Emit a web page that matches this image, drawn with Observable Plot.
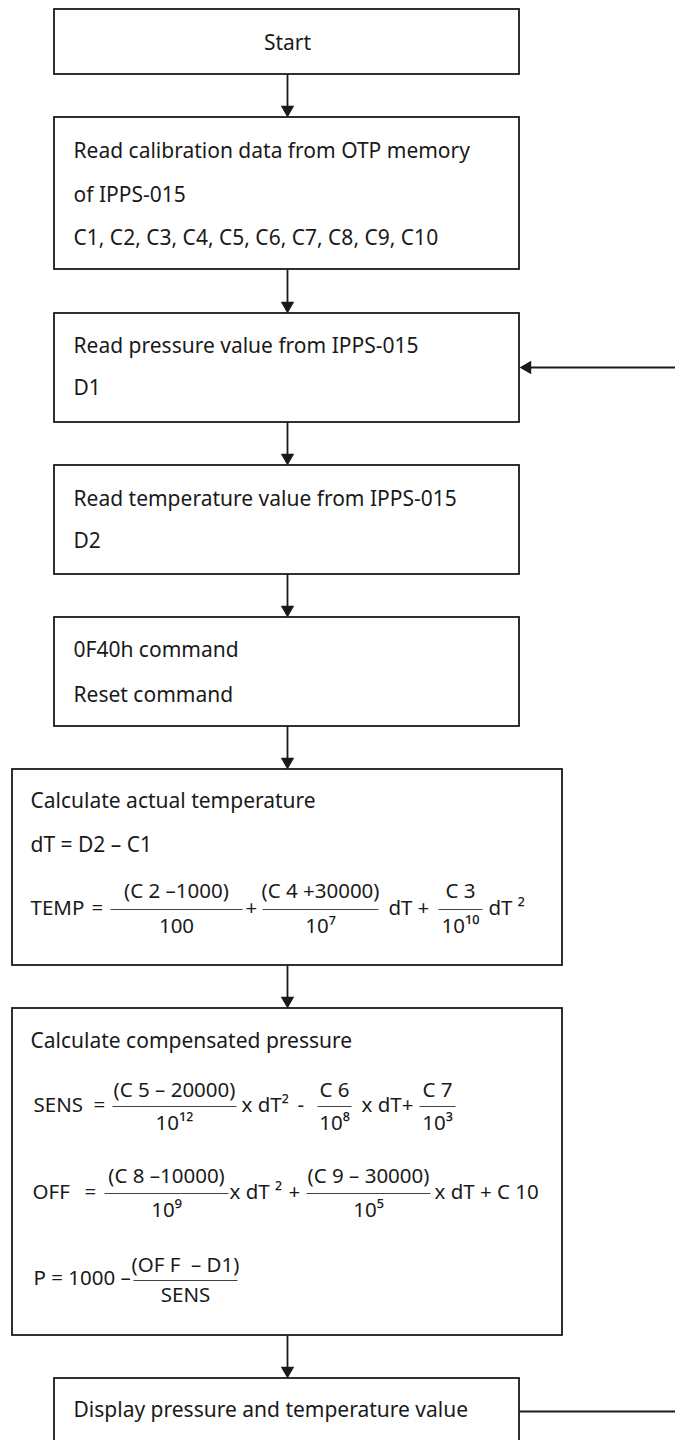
<!DOCTYPE html>
<html><head><meta charset="utf-8">
<script src="https://cdn.jsdelivr.net/npm/d3@7"></script>
<script src="https://cdn.jsdelivr.net/npm/@observablehq/plot@0.6"></script>
<style>html,body{margin:0;padding:0;background:#fff;} #chart svg{display:block}</style>
</head><body><div id="chart"></div>
<script>
// ---------- data: texts of the flowchart ----------
const stepLines = [
  ["Start"],
  ["Read calibration data from OTP memory", "of IPPS-015", "C1, C2, C3, C4, C5, C6, C7, C8, C9, C10"],
  ["Read pressure value from IPPS-015", "D1"],
  ["Read temperature value from IPPS-015", "D2"],
  ["0F40h command", "Reset command"],
  ["Calculate actual temperature", "dT = D2 – C1"],
  ["Calculate compensated pressure"],
  ["Display pressure and temperature value"]
];
const tempTokens = ["TEMP", "=", "+", "dT", "+", "dT ²"];
const tempNumerators = ["(C 2 –1000)", "(C 4 +30000)", "C 3"];
const tempDenominators = ["100", "10⁷", "10¹⁰"];
const sensTokens = ["SENS", "=", "x dT²", "-", "x dT+"];
const sensNumerators = ["(C 5 – 20000)", "C 6", "C 7"];
const sensDenominators = ["10¹²", "10⁸", "10³"];
const offTokens = ["OFF", "=", "x dT ²", "+", "x dT + C 10"];
const offNumerators = ["(C 8 –10000)", "(C 9 – 30000)"];
const offDenominators = ["10⁹", "10⁵"];
const pTokens = ["P = 1000 –"];
const pNumerators = ["(OF F  – D1)"];
const pDenominators = ["SENS"];

// ---------- layout (pixel geometry of the drawing) ----------
const W = 675, H = 1440, CX = 287;
const small = [54, 519], big = [12, 562];
const boxGeom = [
  {xs: small, y1: 9,    y2: 74,   lineY: [43],            center: true},
  {xs: small, y1: 117,  y2: 269,  lineY: [151, 195, 238]},
  {xs: small, y1: 313,  y2: 422,  lineY: [346, 388]},
  {xs: small, y1: 465,  y2: 574,  lineY: [499, 541]},
  {xs: small, y1: 617,  y2: 726,  lineY: [650, 695]},
  {xs: big,   y1: 769,  y2: 965,  lineY: [801, 845]},
  {xs: big,   y1: 1008, y2: 1335, lineY: [1041]},
  {xs: small, y1: 1378, y2: 1446, lineY: [1410]}
];
const rowGeom = [
  {tokens: tempTokens, nums: tempNumerators, dens: tempDenominators, y: 908, numY: 891, denY: 926, barY: 909,
   tokenX: [30, 91, 245, 388, 417, 488], fracX: [176, 320, 460], fracHW: [66, 58, 22]},
  {tokens: sensTokens, nums: sensNumerators, dens: sensDenominators, y: 1105, numY: 1090, denY: 1123, barY: 1106,
   tokenX: [33, 93, 241, 297, 361], fracX: [174, 334, 437], fracHW: [62, 17, 18]},
  {tokens: offTokens, nums: offNumerators, dens: offDenominators, y: 1192, numY: 1176, denY: 1210, barY: 1193,
   tokenX: [32, 84, 229, 288, 434], fracX: [166, 368], fracHW: [62, 62]},
  {tokens: pTokens, nums: pNumerators, dens: pDenominators, y: 1278, numY: 1265, denY: 1295, barY: 1280,
   tokenX: [33], fracX: [185], fracHW: [52]}
];
const feedbackY = 367, outY = 1411;
const tipOffset = 7.8;

// ---------- build tables ----------
const boxes = boxGeom.map((b, i) => ({x1: b.xs[0], x2: b.xs[1], y1: b.y1, y2: b.y2, i}));
const lines = [];
stepLines.forEach((ls, i) => {
  const g = boxGeom[i];
  ls.forEach((t, j) => lines.push({text: t, y: g.lineY[j], x: g.center ? CX : (g.xs[0] === small[0] ? 73 : 30), center: !!g.center}));
});
const tokens = [], fracTexts = [], bars = [];
rowGeom.forEach(r => {
  r.tokens.forEach((t, j) => tokens.push({text: t, x: r.tokenX[j], y: r.y}));
  r.nums.forEach((t, j) => {
    fracTexts.push({text: t, x: r.fracX[j], y: r.numY});
    fracTexts.push({text: r.dens[j], x: r.fracX[j], y: r.denY});
    bars.push({x1: r.fracX[j] - r.fracHW[j], x2: r.fracX[j] + r.fracHW[j], y1: r.barY, y2: r.barY});
  });
});
const connectors = [];
const tips = [];
for (let i = 0; i < boxGeom.length - 1; i++) {
  connectors.push({x1: CX, y1: boxGeom[i].y2, x2: CX, y2: boxGeom[i + 1].y1 - tipOffset});
  tips.push({x: CX, y: boxGeom[i + 1].y1 - tipOffset, rot: 180});
}
connectors.push({x1: W, y1: feedbackY, x2: small[1] + tipOffset, y2: feedbackY});
tips.push({x: small[1] + tipOffset, y: feedbackY, rot: 270});
connectors.push({x1: small[1], y1: outY, x2: W, y2: outY});

const ink = "#1a1a1a";
const font = "Noto Sans";
const fs = 21, ffs = 20.5;

const chart = Plot.plot({
  width: W, height: H, margin: 0,
  x: {domain: [0, W], range: [0, W], axis: null},
  y: {domain: [0, H], range: [0, H], axis: null},
  style: {background: "#fff"},
  marks: [
    Plot.rect(boxes, {x1: "x1", x2: "x2", y1: "y1", y2: "y2", fill: "#fff", stroke: ink, strokeWidth: 1.8, clip: true}),
    Plot.link(connectors, {x1: "x1", y1: "y1", x2: "x2", y2: "y2", stroke: ink, strokeWidth: 1.8}),
    Plot.dot(tips, {x: "x", y: "y", symbol: "triangle", r: 5, fill: ink, stroke: "none", rotate: "rot"}),
    Plot.link(bars, {x1: "x1", y1: "y1", x2: "x2", y2: "y2", stroke: "#444", strokeWidth: 1}),
    Plot.text(lines.filter(d => d.center), {x: "x", y: "y", text: "text", textAnchor: "middle", fontSize: fs, fontFamily: font, fill: ink}),
    Plot.text(lines.filter(d => !d.center), {x: "x", y: "y", text: "text", textAnchor: "start", fontSize: fs, fontFamily: font, fill: ink}),
    Plot.text(tokens, {x: "x", y: "y", text: "text", textAnchor: "start", fontSize: ffs, fontFamily: font, fill: ink}),
    Plot.text(fracTexts, {x: "x", y: "y", text: "text", textAnchor: "middle", fontSize: ffs, fontFamily: font, fill: ink})
  ]
});
document.getElementById("chart").append(chart);
</script>
</body></html>
